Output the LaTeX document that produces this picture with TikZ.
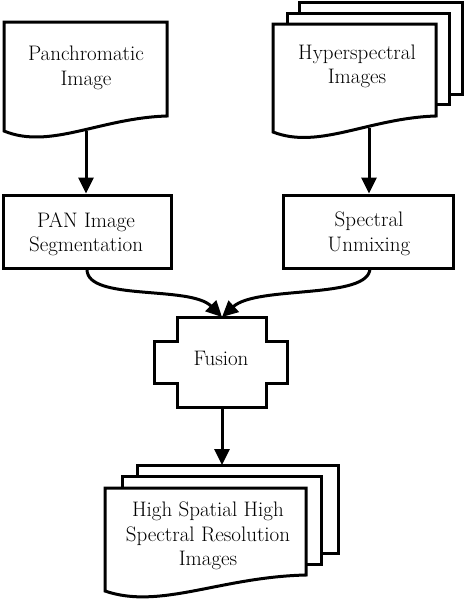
\documentclass[tikz,border=0pt]{standalone}
\usetikzlibrary{arrows.meta}
\begin{document}
\begin{tikzpicture}[x=1pt,y=-1pt, line width=3pt, line join=miter,
  txt/.style={align=center, font=\fontsize{21}{24.5}\selectfont, inner sep=0pt},
  procbox/.style={draw, minimum width=168pt, minimum height=73pt, inner sep=0pt},
  outline/.style={draw, fill=white},
  arr/.style={-{Triangle[length=16pt,width=15pt]}}]
\useasboundingbox (0,0) rectangle (464,600);
% Panchromatic document
\draw[outline] (4,22) -- (167,22) -- (167,116)
   .. controls (100,118) and (50,150) .. (4,131) -- cycle;
\node[txt] (pantxt) at (86,68) {Panchromatic\\Image};
\coordinate (panbot) at (86,131);
% Hyperspectral documents (stack)
\draw[outline] (299,13) -- (299,2.5) -- (462,2.5) -- (462,94) -- (449,94);
\draw[outline] (287,24) -- (287,13) -- (449,13) -- (449,104) -- (436,104);
\draw[outline] (273,24) -- (436,24) -- (436,116)
   .. controls (369,118) and (319,150) .. (273,132) -- cycle;
\node[txt] (hyptxt) at (357,66.5) {Hyperspectral\\Images};
\coordinate (hypbot) at (369,128);
% Process boxes
\node[procbox] (panseg) at (87,231.5) {};
\node[txt] (pansegtxt) at (86,234) {PAN Image\\Segmentation};
\node[procbox, minimum width=170pt] (unmix) at (368,231.5) {};
\node[txt] (unmixtxt) at (369,234) {Spectral\\Unmixing};
\coordinate (unmixout) at (370,268);
% Fusion cross
\draw[outline] (177,317) -- (266,317) -- (266,341) -- (287,341) -- (287,383)
   -- (266,383) -- (266,407) -- (177,407) -- (177,383) -- (154,383)
   -- (154,341) -- (177,341) -- cycle;
\node[txt] (fusion) at (221,358.5) {Fusion};
\coordinate (fustop) at (222,317);
\coordinate (fusbot) at (222,407);
% Output documents (stack)
\draw[outline] (137,476) -- (137,465) -- (338,465) -- (338,553) -- (321,553);
\draw[outline] (122,488) -- (122,476) -- (321,476) -- (321,564) -- (306,564);
\draw[outline] (105,488) -- (306,488) -- (306,575)
   .. controls (220,577) and (160,610) .. (105,591) -- cycle;
\node[txt] (outtxt) at (208,536) {High Spatial High\\Spectral Resolution\\Images};
\coordinate (outtop) at (222,465);
% Connectors
\draw[arr] (panbot) -- (panseg.north -| panbot);
\draw[arr] (hypbot) -- (unmix.north -| hypbot);
\draw[arr] (panseg.south) .. controls +(0,32) and (190,285) .. (fustop);
\draw[arr] (unmixout) .. controls +(0,32) and (257,285) .. (fustop);
\draw[arr] (fusbot) -- (outtop);
\end{tikzpicture}
\end{document}
